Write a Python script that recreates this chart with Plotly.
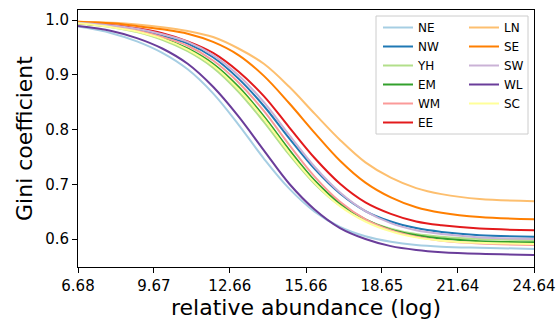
import plotly.graph_objects as go

x_vals = [6.68, 8, 9, 10, 11, 12, 13, 14, 15, 16, 17, 18, 19, 20, 21, 22.5, 24.64]

regions = ["NE", "NW", "YH", "EM", "WM", "EE", "LN", "SE", "SW", "WL", "SC"]
colors = ["#a6cee3", "#1f78b4", "#b2df8a", "#33a02c", "#fb9a99", "#e31a1c",
          "#fdbf6f", "#ff7f00", "#cab2d6", "#6a3d9a", "#ffff99"]

NE = [0.988, 0.976, 0.961, 0.940, 0.910, 0.866, 0.809, 0.747, 0.692, 0.650, 0.622, 0.605, 0.595, 0.589, 0.586, 0.584, 0.582]
NW = [0.995, 0.989, 0.983, 0.971, 0.957, 0.932, 0.893, 0.843, 0.784, 0.728, 0.683, 0.651, 0.632, 0.620, 0.613, 0.607, 0.604]
YH = [0.993, 0.987, 0.978, 0.964, 0.943, 0.913, 0.869, 0.814, 0.754, 0.701, 0.661, 0.635, 0.619, 0.609, 0.604, 0.600, 0.598]
EM = [0.994, 0.988, 0.980, 0.967, 0.948, 0.920, 0.878, 0.824, 0.763, 0.707, 0.665, 0.636, 0.617, 0.607, 0.601, 0.596, 0.594]
WM = [0.994, 0.989, 0.981, 0.969, 0.953, 0.926, 0.886, 0.834, 0.772, 0.714, 0.668, 0.636, 0.616, 0.604, 0.597, 0.592, 0.589]
EE = [0.996, 0.991, 0.985, 0.976, 0.961, 0.940, 0.906, 0.861, 0.804, 0.748, 0.701, 0.667, 0.646, 0.632, 0.625, 0.619, 0.616]
LN = [0.997, 0.995, 0.992, 0.987, 0.980, 0.969, 0.948, 0.920, 0.878, 0.829, 0.781, 0.740, 0.712, 0.693, 0.682, 0.673, 0.669]
SE = [0.997, 0.994, 0.989, 0.983, 0.975, 0.960, 0.936, 0.898, 0.848, 0.794, 0.743, 0.703, 0.676, 0.658, 0.648, 0.640, 0.636]
SW = [0.995, 0.990, 0.984, 0.974, 0.960, 0.936, 0.899, 0.850, 0.790, 0.732, 0.685, 0.651, 0.629, 0.616, 0.609, 0.603, 0.600]
WL = [0.989, 0.980, 0.967, 0.948, 0.920, 0.878, 0.824, 0.762, 0.701, 0.654, 0.620, 0.600, 0.587, 0.580, 0.576, 0.573, 0.571]
SC = [0.994, 0.987, 0.979, 0.966, 0.946, 0.917, 0.874, 0.820, 0.758, 0.703, 0.660, 0.632, 0.614, 0.603, 0.597, 0.593, 0.591]

series = [NE, NW, YH, EM, WM, EE, LN, SE, SW, WL, SC]

x_ticks = [6.68, 9.67, 12.66, 15.66, 18.65, 21.64, 24.64]
y_ticks = [0.6, 0.7, 0.8, 0.9, 1.0]

FONT = "DejaVu Sans"

fig = go.Figure()
for i, (name, ys, c) in enumerate(zip(regions, series, colors)):
    fig.add_trace(go.Scatter(
        x=x_vals, y=ys, mode="lines", name=name,
        line=dict(color=c, width=2, shape="spline", smoothing=1.0),
        legend="legend" if i < 6 else "legend2",
    ))

L, R, T, B = 78, 26, 10, 53
W, H = 560, 320
pw, ph = W - L - R, H - T - B

def px2paper(px, py):
    return (px - L) / pw, (H - B - py) / ph

bx0, by0 = px2paper(376, 134)
bx1, by1 = px2paper(528, 16)

leg_common = dict(
    yanchor="top", xanchor="left", bgcolor="rgba(0,0,0,0)", borderwidth=0,
    font=dict(size=12, family=FONT, color="black"), tracegroupgap=0,
)
lx1, ly = px2paper(378, 13)
lx2, _ = px2paper(464, 13)

axis_common = dict(
    showline=True, linecolor="black", linewidth=1, mirror=True,
    ticks="outside", ticklen=5, tickwidth=1, tickcolor="black",
    showgrid=False, zeroline=False, automargin=False,
    tickfont=dict(size=15, family=FONT, color="black"),
)

fig.update_layout(
    width=W, height=H,
    margin=dict(l=L, r=R, t=T, b=B),
    plot_bgcolor="white", paper_bgcolor="white",
    showlegend=True,
    legend=dict(x=lx1, y=ly, **leg_common),
    legend2=dict(x=lx2, y=ly, **leg_common),
    xaxis=dict(range=[6.68, 24.64], tickvals=x_ticks,
               ticktext=[f"{v:.2f}" for v in x_ticks],
               title=dict(text="relative abundance (log)",
                          font=dict(size=22, family=FONT, color="black"), standoff=10),
               **axis_common),
    yaxis=dict(range=[0.5489, 1.0183], tickvals=y_ticks,
               ticktext=[f"{v:.1f}" for v in y_ticks],
               title=dict(text="Gini coefficient",
                          font=dict(size=22, family=FONT, color="black"), standoff=6),
               **axis_common),
    shapes=[dict(type="rect", xref="paper", yref="paper",
                 x0=bx0, x1=bx1, y0=by0, y1=by1,
                 line=dict(color="#cccccc", width=1),
                 fillcolor="rgba(255,255,255,0.8)", layer="above")],
)

fig.write_html("out.html")
